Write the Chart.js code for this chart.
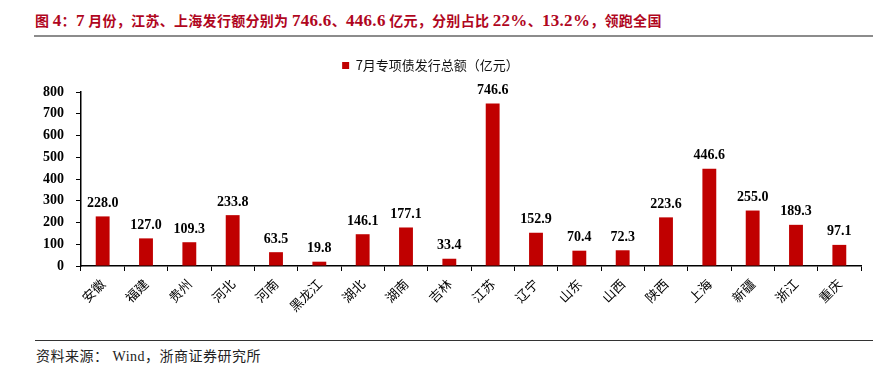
<!DOCTYPE html>
<html lang="zh">
<head>
<meta charset="UTF-8">
<title>7月专项债发行总额</title>
<script src="https://cdn.jsdelivr.net/npm/chart.js"></script>
<style>
    body { margin: 0; background: #fff; width: 893px; height: 383px; position: relative; overflow: hidden; }
    .title {
        position: absolute; left: 35px; top: 10px;
        font: bold 14px "Noto Sans CJK SC", sans-serif;
        color: #b0061e; white-space: nowrap; letter-spacing: 0.3px;
    }
    .title .n { font: bold 17px "Liberation Serif", serif; }
    .title-line { position: absolute; left: 34px; top: 35px; width: 839px; height: 2px; background: #8c8c8c; }
    .chart-box { position: absolute; left: 0; top: 40px; width: 893px; height: 300px; }
    .foot-line { position: absolute; left: 35px; top: 340px; width: 838px; height: 1px; background: #333; }
    .source {
        position: absolute; left: 36px; top: 345px;
        font: 14px "Liberation Serif", "Noto Sans CJK SC", serif; color: #222;
        letter-spacing: 0.5px; white-space: nowrap;
    }
</style>
</head>
<body>
<div class="title">图 <span class="n">4</span>：<span class="n">7</span> 月份，江苏、上海发行额分别为 <span class="n">746.6</span>、<span class="n">446.6</span> 亿元，分别占比 <span class="n">22%</span>、<span class="n">13.2%</span>，领跑全国</div>
<div class="title-line"></div>
<div class="chart-box"><canvas id="grafico" width="893" height="300"></canvas></div>
<div class="foot-line"></div>
<div class="source">资料来源： Wind，浙商证券研究所</div>

<script>
    const provincias = ['安徽', '福建', '贵州', '河北', '河南', '黑龙江', '湖北', '湖南', '吉林',
        '江苏', '辽宁', '山东', '山西', '陕西', '上海', '新疆', '浙江', '重庆'];
    const emision = [228.0, 127.0, 109.3, 233.8, 63.5, 19.8, 146.1, 177.1, 33.4,
        746.6, 152.9, 70.4, 72.3, 223.6, 446.6, 255.0, 189.3, 97.1];
    const nombreSerie = '7月专项债发行总额（亿元）';

    // etiquetas de valor encima de cada barra
    const etiquetasValor = {
        id: 'etiquetasValor',
        afterDatasetsDraw(chart) {
            const ctx = chart.ctx;
            const meta = chart.getDatasetMeta(0);
            ctx.save();
            ctx.font = 'bold 14px "Liberation Serif", serif';
            ctx.fillStyle = '#000';
            ctx.textAlign = 'center';
            ctx.textBaseline = 'bottom';
            meta.data.forEach((bar, i) => {
                ctx.fillText(emision[i].toFixed(1), bar.x, bar.y - 6);
            });
            ctx.restore();
        }
    };

    // espacio extra debajo de la leyenda
    const margenLeyenda = {
        id: 'margenLeyenda',
        beforeInit(chart) {
            const fitOrig = chart.legend.fit;
            chart.legend.fit = function () {
                fitOrig.call(this);
                this.height += 10;
            };
        }
    };

    const ctx = document.getElementById('grafico').getContext('2d');
    new Chart(ctx, {
        type: 'bar',
        data: {
            labels: provincias,
            datasets: [{
                label: nombreSerie,
                data: emision,
                backgroundColor: '#c00000',
                categoryPercentage: 1,
                barPercentage: 0.32
            }]
        },
        options: {
            responsive: false,
            animation: false,
            layout: { padding: { top: 0, right: 32, left: 0, bottom: 0 } },
            plugins: {
                legend: {
                    position: 'top',
                    labels: {
                        boxWidth: 7, boxHeight: 7, padding: 19,
                        color: '#111',
                        font: { family: '"Noto Sans CJK SC"', size: 13 }
                    }
                },
                tooltip: { enabled: false }
            },
            scales: {
                x: {
                    offset: true,
                    grid: { offset: true, drawOnChartArea: false, drawTicks: true, tickLength: 5, color: '#000' },
                    border: { color: '#000', width: 1.5 },
                    ticks: {
                        maxRotation: 45, minRotation: 45, autoSkip: false, padding: 5,
                        color: '#000',
                        font: { family: '"Noto Sans CJK SC"', size: 13 }
                    },
                    afterFit(scale) { scale.height = 74; }
                },
                y: {
                    min: 0, max: 800,
                    grid: { drawOnChartArea: false, drawTicks: true, tickLength: 5, color: '#000' },
                    border: { color: '#000', width: 1.5 },
                    ticks: {
                        stepSize: 100, padding: 12,
                        color: '#000',
                        font: { family: '"Liberation Serif"', size: 14, weight: 'bold' }
                    },
                    afterFit(scale) { scale.width = 81; }
                }
            }
        },
        plugins: [margenLeyenda, etiquetasValor]
    });
</script>
</body>
</html>
